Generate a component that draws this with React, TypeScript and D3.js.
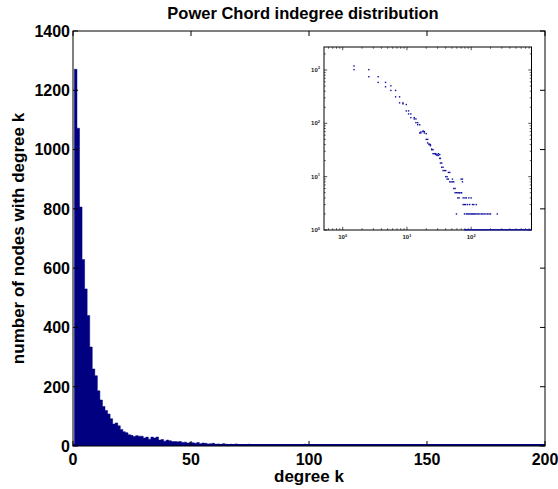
import React from 'react';
import * as d3 from 'd3';

// ---- main histogram data ----
const title = 'Power Chord indegree distribution';
const xLabel = 'degree k';
const yLabel = 'number of nodes with degree k';
const binStart = 0.6; // left edge of first bin (degree units)
const binWidth = 1.08; // bin width (degree units)
const binCounts = [
  1271, 1072, 806, 629, 530, 440, 334, 260, 237, 186,
  155, 133, 120, 108, 92, 74, 78, 68, 56, 48,
  45, 38, 36, 32, 35, 33, 33, 27, 30, 23,
  30, 27, 30, 20, 22, 16, 20, 18, 15, 15,
  14, 15,
  12, 13, 10, 12, 11, 9, 12, 8, 10, 9, 7, 8, 9, 6, 7, 5, 8, 6, 5, 6,
  4, 7, 5, 4, 5, 3, 6, 4, 3, 5, 4, 3, 2, 4, 3, 2, 3, 2, 4, 2,
  3, 2, 2, 3, 1, 2, 5, 3, 6, 2, 1, 2, 2, 1, 3, 2, 1, 2, 2, 1,
  2, 1, 2, 1, 1, 3, 1, 2, 1, 2, 1, 1, 2, 1, 0, 2, 1, 1, 2, 1,
  1, 2, 1, 0, 1, 1, 2, 1, 1, 0, 1, 2, 1, 1, 0, 1, 1, 2, 0, 1,
  1, 0, 1, 1, 2, 1, 0, 1, 1, 0, 1, 2, 1, 0, 1, 1, 0, 1, 1, 0,
  1, 1, 0, 1, 2, 0, 1, 1, 0, 1, 0, 1, 1, 0, 1, 1, 0, 1, 0, 1, 1, 0, 1,
];
const xTicks = [0, 50, 100, 150, 200];
const yTicks = [0, 200, 400, 600, 800, 1000, 1200, 1400];

// ---- inset (log-log) data: [degree, count] ----
const insetPoints: [number, number][] = [
  [1.5, 1190], [1.5, 1015], [2.55, 1015], [2.55, 748], [3.56, 748], [3.56, 585],
  [4.64, 585], [4.64, 485], [5.62, 506], [5.62, 413], [6.65, 413], [6.65, 314],
  [7.68, 314], [7.68, 242], [8.66, 242], [8.66, 232], [9.77, 225], [9.77, 171],
  [10.6, 171], [10.6, 150], [11.5, 150], [11.5, 128], [13.0, 128], [13.0, 121],
  [13.8, 121], [13.8, 103], [14.7, 103], [14.7, 94], [15.8, 94], [15.8, 66],
  [16.5, 66], [16.5, 69], [17.8, 72], [17.8, 70], [18.7, 70], [18.7, 66],
  [20.0, 64], [20.0, 50], [21.0, 50], [21.0, 43], [22.1, 41], [22.1, 40],
  [23.2, 40], [23.2, 38], [24.3, 33], [24.3, 32], [25.5, 32], [25.5, 27],
  [26.7, 27], [28.0, 27], [28.0, 26], [29.4, 26], [29.4, 25], [30.9, 25],
  [30.9, 27], [32.4, 26], [32.4, 22], [33.2, 22], [33.2, 18], [34.8, 18],
  [34.8, 15], [36.5, 15], [36.5, 13], [38.3, 13], [40.2, 13], [40.2, 10],
  [42.2, 10], [42.2, 9], [44.2, 9], [44.2, 12], [46.4, 12], [46.4, 8],
  [48.7, 8], [51.1, 8], [51.1, 9], [53.6, 8], [53.6, 6], [56.2, 6], [56.2, 5],
  [59.0, 5], [59.0, 2], [61.9, 5], [61.9, 4], [64.9, 4], [64.9, 5], [69.8, 5],
  [69.8, 9], [73.2, 9], [73.2, 8], [75.0, 4], [75.0, 3], [78.7, 3], [78.7, 2],
  [66, 5], [71, 5],
  [80, 4], [84, 4], [92, 4], [100, 4],
  [82, 3], [88, 3], [95, 3], [105, 3], [110, 3], [120, 3],
  [84, 2], [88, 2], [92, 2], [96, 2], [100, 2], [104, 2], [108, 2], [113, 2],
  [118, 2], [124, 2], [130, 2], [137, 2], [145, 2], [152, 2], [160, 2], [170, 2],
  [180, 2], [190, 2], [200, 2], [255, 2],
];
const insetFloorRange = [77, 870]; // degrees with count-1 bins along the floor
const insetXExps = [0, 1, 2];
const insetYExps = [0, 1, 2, 3];

const FONT = '"Liberation Sans", Arial, Helvetica, sans-serif';
const NAVY = '#000080';

export default function App() {
  const W = 558;
  const H = 489;
  const left = 73, right = 545, top = 31, bottom = 446;
  const x = d3.scaleLinear().domain([0, 200]).range([left, right]);
  const y = d3.scaleLinear().domain([0, 1400]).range([bottom, top]);

  const iL = 324, iR = 531.5, iT = 47, iB = 230;
  const xi = d3.scaleLog().domain([0.511, 870]).range([iL, iR]);
  const yi = d3.scaleLog().domain([1, 2698]).range([iB, iT]);

  const steps = binCounts.map((c, i) => ({ e: binStart + binWidth * i, c }));
  steps.push({ e: binStart + binWidth * binCounts.length, c: 0 });
  const area = d3
    .area<{ e: number; c: number }>()
    .x((d) => x(d.e))
    .y0(y(0))
    .y1((d) => y(d.c))
    .curve(d3.curveStepAfter);

  // inset minor ticks
  const xMinor: number[] = [];
  for (let d = -1; d <= 2; d++) {
    for (let k = 2; k <= 9; k++) {
      const v = k * Math.pow(10, d);
      if (v > 0.511 && v < 870) xMinor.push(v);
    }
  }
  const yMinor: number[] = [];
  for (let d = 0; d <= 3; d++) {
    for (let k = 2; k <= 9; k++) {
      const v = k * Math.pow(10, d);
      if (v > 1 && v < 2698) yMinor.push(v);
    }
  }

  const tl = 5;
  return (
    <svg
      width={W}
      height={H}
      style={{ position: 'absolute', left: 0, top: 0, background: '#fff' }}
      fontFamily={FONT}
    >
      <defs>
        <clipPath id="mainClip">
          <rect x={left} y={top} width={right - left} height={bottom - top} />
        </clipPath>
      </defs>
      <rect x={0} y={0} width={W} height={H} fill="#fff" />

      {/* bars */}
      <g clipPath="url(#mainClip)">
        <path d={area(steps) || ''} fill={NAVY} stroke={NAVY} strokeWidth={0.5} />
        <rect x={x(0)} y={bottom - 2} width={x(200) - x(0)} height={2} fill={NAVY} />
      </g>

      {/* main box */}
      <rect x={left} y={top} width={right - left} height={bottom - top} fill="none" stroke="#000" strokeWidth={1} />

      {/* main ticks */}
      {xTicks.map((t) => (
        <g key={'xt' + t}>
          <line x1={x(t)} x2={x(t)} y1={bottom} y2={bottom - tl} stroke="#000" />
          <line x1={x(t)} x2={x(t)} y1={top} y2={top + tl} stroke="#000" />
          <text x={x(t)} y={464.5} textAnchor="middle" fontSize={16} fontWeight="bold" fill="#000">
            {t}
          </text>
        </g>
      ))}
      {yTicks.map((t) => (
        <g key={'yt' + t}>
          <line x1={left} x2={left + tl} y1={y(t)} y2={y(t)} stroke="#000" />
          <line x1={right} x2={right - tl} y1={y(t)} y2={y(t)} stroke="#000" />
          <text x={70} y={y(t) + 5.8} textAnchor="end" fontSize={16} fontWeight="bold" fill="#000">
            {t}
          </text>
        </g>
      ))}

      {/* labels */}
      <text x={303} y={19} textAnchor="middle" fontSize={16.5} fontWeight="bold" fill="#000">
        {title}
      </text>
      <text x={(left + right) / 2} y={482} textAnchor="middle" fontSize={17} fontWeight="bold" fill="#000">
        {xLabel}
      </text>
      <text
        transform={`translate(24, ${(top + bottom) / 2}) rotate(-90)`}
        textAnchor="middle"
        fontSize={17}
        fontWeight="bold"
        fill="#000"
      >
        {yLabel}
      </text>

      {/* inset */}
      <rect x={iL} y={iT} width={iR - iL} height={iB - iT} fill="#fff" stroke="none" />
      {xMinor.map((v, i) => (
        <g key={'xm' + i}>
          <line x1={xi(v)} x2={xi(v)} y1={iB} y2={iB - 1.8} stroke="#000" strokeWidth={0.6} />
          <line x1={xi(v)} x2={xi(v)} y1={iT} y2={iT + 1.8} stroke="#000" strokeWidth={0.6} />
        </g>
      ))}
      {yMinor.map((v, i) => (
        <g key={'ym' + i}>
          <line x1={iL} x2={iL + 1.8} y1={yi(v)} y2={yi(v)} stroke="#000" strokeWidth={0.6} />
          <line x1={iR} x2={iR - 1.8} y1={yi(v)} y2={yi(v)} stroke="#000" strokeWidth={0.6} />
        </g>
      ))}
      {insetXExps.map((e) => {
        const px = xi(Math.pow(10, e));
        return (
          <g key={'ix' + e}>
            <line x1={px} x2={px} y1={iB} y2={iB - 3.2} stroke="#000" strokeWidth={0.7} />
            <line x1={px} x2={px} y1={iT} y2={iT + 3.2} stroke="#000" strokeWidth={0.7} />
            <text x={px} y={239} textAnchor="middle" fontSize={6} fontWeight="bold" fill="#222">
              10<tspan fontSize={4} dy={-2.5}>{e}</tspan>
            </text>
          </g>
        );
      })}
      {insetYExps.map((e) => {
        const py = yi(Math.pow(10, e));
        return (
          <g key={'iy' + e}>
            <line x1={iL} x2={iL + 3.2} y1={py} y2={py} stroke="#000" strokeWidth={0.7} />
            <line x1={iR} x2={iR - 3.2} y1={py} y2={py} stroke="#000" strokeWidth={0.7} />
            <text x={320} y={py + 2} textAnchor="end" fontSize={6} fontWeight="bold" fill="#222">
              10<tspan fontSize={4} dy={-2.5}>{e}</tspan>
            </text>
          </g>
        );
      })}
      <rect x={iL} y={iT} width={iR - iL} height={iB - iT} fill="none" stroke="#000" strokeWidth={1} />
      <line
        x1={xi(insetFloorRange[0])}
        x2={xi(insetFloorRange[1])}
        y1={yi(1) - 0.3}
        y2={yi(1) - 0.3}
        stroke="#1a1aa0"
        strokeWidth={1.4}
      />
      {insetPoints.map(([d, c], i) => (
        <rect key={'ip' + i} x={xi(d) - 0.7} y={yi(c) - 0.7} width={1.4} height={1.4} fill="#1010a0" />
      ))}
    </svg>
  );
}
